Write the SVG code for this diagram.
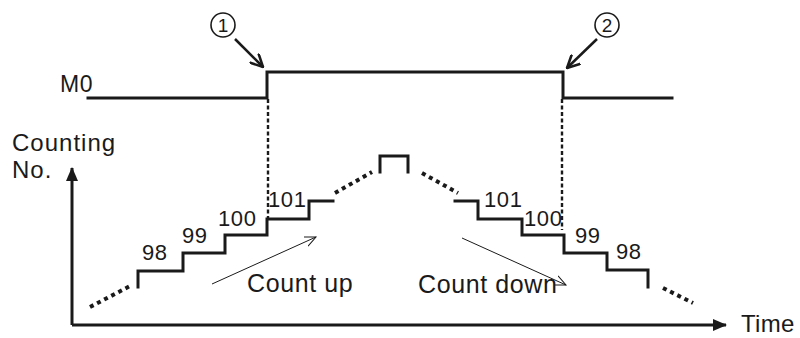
<svg xmlns="http://www.w3.org/2000/svg" width="800" height="338" viewBox="0 0 800 338">
<style>
  text { font-family: "Liberation Sans", Arial, sans-serif; fill: #1a1a1a; }
  .lbl { font-size: 25px; letter-spacing: 0.6px; }
  .side { font-size: 24px; letter-spacing: 1px; }
  .num { font-size: 22px; letter-spacing: 0.6px; }
  .sig { fill: none; stroke: #1a1a1a; stroke-width: 3; stroke-linejoin: miter; stroke-linecap: square; }
  .dash { fill: none; stroke: #1a1a1a; stroke-width: 2.4; stroke-dasharray: 4 2.5; }
  .dots { fill: none; stroke: #1a1a1a; stroke-width: 4; stroke-dasharray: 4 4; }
  .thin { fill: none; stroke: #1a1a1a; stroke-width: 1; }
  .callout { fill: none; stroke: #1a1a1a; stroke-width: 2.5; }
  .circ { fill: none; stroke: #1a1a1a; stroke-width: 1.6; }
  .axis { fill: none; stroke: #1a1a1a; stroke-width: 3; }
</style>
<defs>
  <marker id="openHead" viewBox="0 0 12 12" refX="11" refY="6" markerWidth="12" markerHeight="12" markerUnits="userSpaceOnUse" orient="auto">
    <path d="M0,1 L11,6 L0,11" fill="none" stroke="#1a1a1a" stroke-width="1"/>
  </marker>
  <marker id="calloutHead" viewBox="0 0 12 12" refX="11" refY="6" markerWidth="14" markerHeight="14" markerUnits="userSpaceOnUse" orient="auto">
    <path d="M0,0.5 L11,6 L0,11.5" fill="none" stroke="#1a1a1a" stroke-width="2.2"/>
  </marker>
  <marker id="solidHead" viewBox="0 0 14 12" refX="13" refY="6" markerWidth="14" markerHeight="12" markerUnits="userSpaceOnUse" orient="auto">
    <path d="M0,0 L14,6 L0,12 Z" fill="#1a1a1a"/>
  </marker>
</defs>

<g id="m0-signal">
  <text class="lbl" x="60" y="92" style="font-size:23px">M0</text>
  <path class="sig" d="M88,98 H267 V72 H563 V98 H672"/>
</g>

<g id="callout-1">
  <circle class="circ" cx="223" cy="25" r="12"/>
  <text x="223" y="32" text-anchor="middle" style="font-size:19px">1</text>
</g>
<g id="callout-2">
  <circle class="circ" cx="607" cy="25" r="12"/>
  <text x="607" y="32" text-anchor="middle" style="font-size:19px">2</text>
</g>

<g id="axes">
  <path class="axis" d="M72,325 V168" marker-end="url(#solidHead)"/>
  <path class="axis" d="M72,325 H726" marker-end="url(#solidHead)"/>
  <text class="side" x="12" y="151">Counting</text>
  <text class="side" x="12" y="178">No.</text>
  <text x="741" y="332" style="font-size:24px;letter-spacing:0.3px">Time</text>
</g>

<g id="count-up">
  <path class="dots" d="M90,307 L132,285"/>
  <path class="sig" d="M138,287 V271 H183 V253 H225 V235 H267 V219 H309 V201 H333"/>
  <path class="dots" d="M335,193 L372,172"/>
  <text class="num" x="142" y="260">98</text>
  <text class="num" x="182" y="243">99</text>
  <text class="num" x="218" y="226">100</text>
  <text class="num" x="268" y="207">101</text>
  <text class="lbl" x="247" y="292">Count up</text>
</g>

<g id="peak">
  <path class="sig" d="M380,172 V156 H408 V172"/>
</g>

<g id="count-down">
  <path class="dots" d="M422,173 L458,193"/>
  <path class="sig" d="M455,201 H478 V219 H522 V235 H564 V253 H607 V270 H648 V287"/>
  <path class="dots" d="M663,288 L693,303"/>
  <text class="num" x="484" y="207">101</text>
  <text class="num" x="524" y="226">100</text>
  <text class="num" x="575" y="243">99</text>
  <text class="num" x="616" y="259">98</text>
  <text class="lbl" x="418" y="293">Count down</text>
</g>

<g id="connectors">
  <path class="dash" d="M268,99 V218"/>
  <path class="dash" d="M562,99 V230"/>
  <path class="callout" d="M235,39 L263,67" marker-end="url(#calloutHead)"/>
  <path class="callout" d="M597,39 L567,68" marker-end="url(#calloutHead)"/>
  <path class="thin" d="M212,284 L316,237" marker-end="url(#openHead)"/>
  <path class="thin" d="M462,238 L566,285" marker-end="url(#openHead)"/>
</g>
</svg>
